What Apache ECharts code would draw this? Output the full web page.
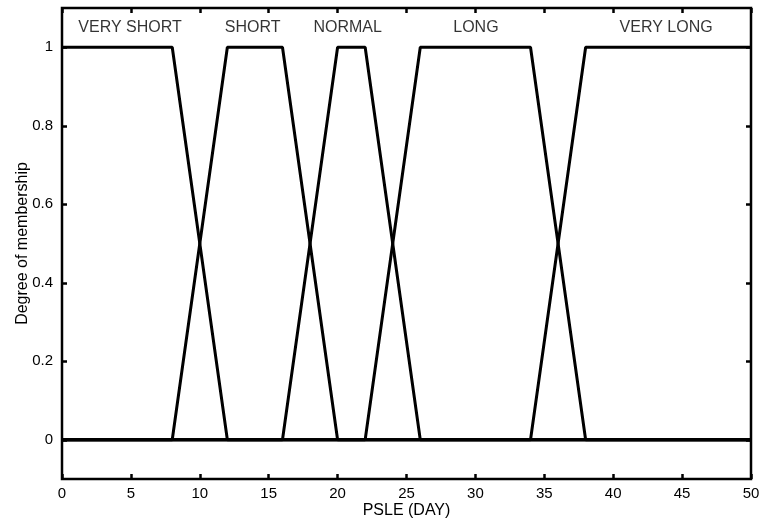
<!DOCTYPE html>
<html><head><meta charset="utf-8">
<script src="https://cdn.jsdelivr.net/npm/echarts@6/dist/echarts.min.js"></script>
<style>html,body{margin:0;padding:0;background:#fff}#c{width:760px;height:520px}</style>
</head><body><div id="c"></div>
<script>
// Membership function corner points (x = PSLE days, y = degree)
const xVeryShort = [0, 8, 12, 50];
const yVeryShort = [1, 1, 0, 0];
const xShort = [0, 8, 12, 16, 20, 50];
const yShort = [0, 0, 1, 1, 0, 0];
const xNormal = [0, 16, 20, 22, 26, 50];
const yNormal = [0, 0, 1, 1, 0, 0];
const xLong = [0, 22, 26, 34, 38, 50];
const yLong = [0, 0, 1, 1, 0, 0];
const xVeryLong = [0, 34, 38, 50];
const yVeryLong = [0, 0, 1, 1];

const labelNames = ['VERY SHORT', 'SHORT', 'NORMAL', 'LONG', 'VERY LONG'];
const labelX = [4.94, 13.83, 20.73, 30.04, 43.84];
const labelY = [1.049, 1.049, 1.049, 1.049, 1.049];

const xTicks = [0, 5, 10, 15, 20, 25, 30, 35, 40, 45, 50];
const yTicks = [0, 0.2, 0.4, 0.6, 0.8, 1];

const zip = (xs, ys) => xs.map((x, i) => [x, ys[i]]);
const font = 'Liberation Sans, Arial, sans-serif';
const lineStyle = { color: '#000', width: 3 };
const mk = (xs, ys) => ({
  type: 'line', data: zip(xs, ys), symbol: 'none', lineStyle: lineStyle,
  animation: false, silent: true
});
const tickStyle = { inside: true, length: 5, lineStyle: { color: '#000', width: 2.5 } };

const chart = echarts.init(document.getElementById('c'));
chart.setOption({
  backgroundColor: '#fff',
  animation: false,
  grid: { left: 62, right: 9, top: 8, bottom: 41, containLabel: false, outerBoundsMode: 'none',
    show: true, borderColor: '#000', borderWidth: 2.5 },
  xAxis: [
    { type: 'value', min: 0, max: 50, interval: 5,
      name: 'PSLE (DAY)', nameLocation: 'middle', nameGap: 24, nameMoveOverlap: false,
      nameTextStyle: { color: '#000', fontFamily: font, fontSize: 16 },
      axisLine: { show: false, onZero: false }, splitLine: { show: false },
      axisTick: tickStyle,
      axisLabel: { color: '#000', fontFamily: font, fontSize: 15, margin: 7,
        customValues: xTicks } },
    { type: 'value', min: 0, max: 50, interval: 5, position: 'top',
      axisLine: { show: false, onZero: false }, splitLine: { show: false }, axisLabel: { show: false },
      axisTick: tickStyle }
  ],
  yAxis: [
    { type: 'value', min: -0.1, max: 1.1,
      name: 'Degree of membership', nameLocation: 'middle', nameGap: 31, nameMoveOverlap: false,
      nameTextStyle: { color: '#000', fontFamily: font, fontSize: 16 },
      axisLine: { show: false, onZero: false }, splitLine: { show: false },
      axisTick: Object.assign({ customValues: yTicks }, tickStyle),
      axisLabel: { color: '#000', fontFamily: font, fontSize: 15, margin: 9, customValues: yTicks } },
    { type: 'value', min: -0.1, max: 1.1, position: 'right',
      axisLine: { show: false, onZero: false }, splitLine: { show: false }, axisLabel: { show: false },
      axisTick: Object.assign({ customValues: yTicks }, tickStyle) }
  ],
  series: [
    mk(xVeryShort, yVeryShort),
    mk(xShort, yShort),
    mk(xNormal, yNormal),
    mk(xLong, yLong),
    mk(xVeryLong, yVeryLong),
    { type: 'scatter', symbolSize: 0, silent: true,
      data: labelNames.map((n, i) => ({ name: n, value: [labelX[i], labelY[i]] })),
      label: { show: true, position: 'inside', formatter: p => p.name,
        color: '#000', fontFamily: font, fontSize: 16 } }
  ]
});
</script></body></html>
